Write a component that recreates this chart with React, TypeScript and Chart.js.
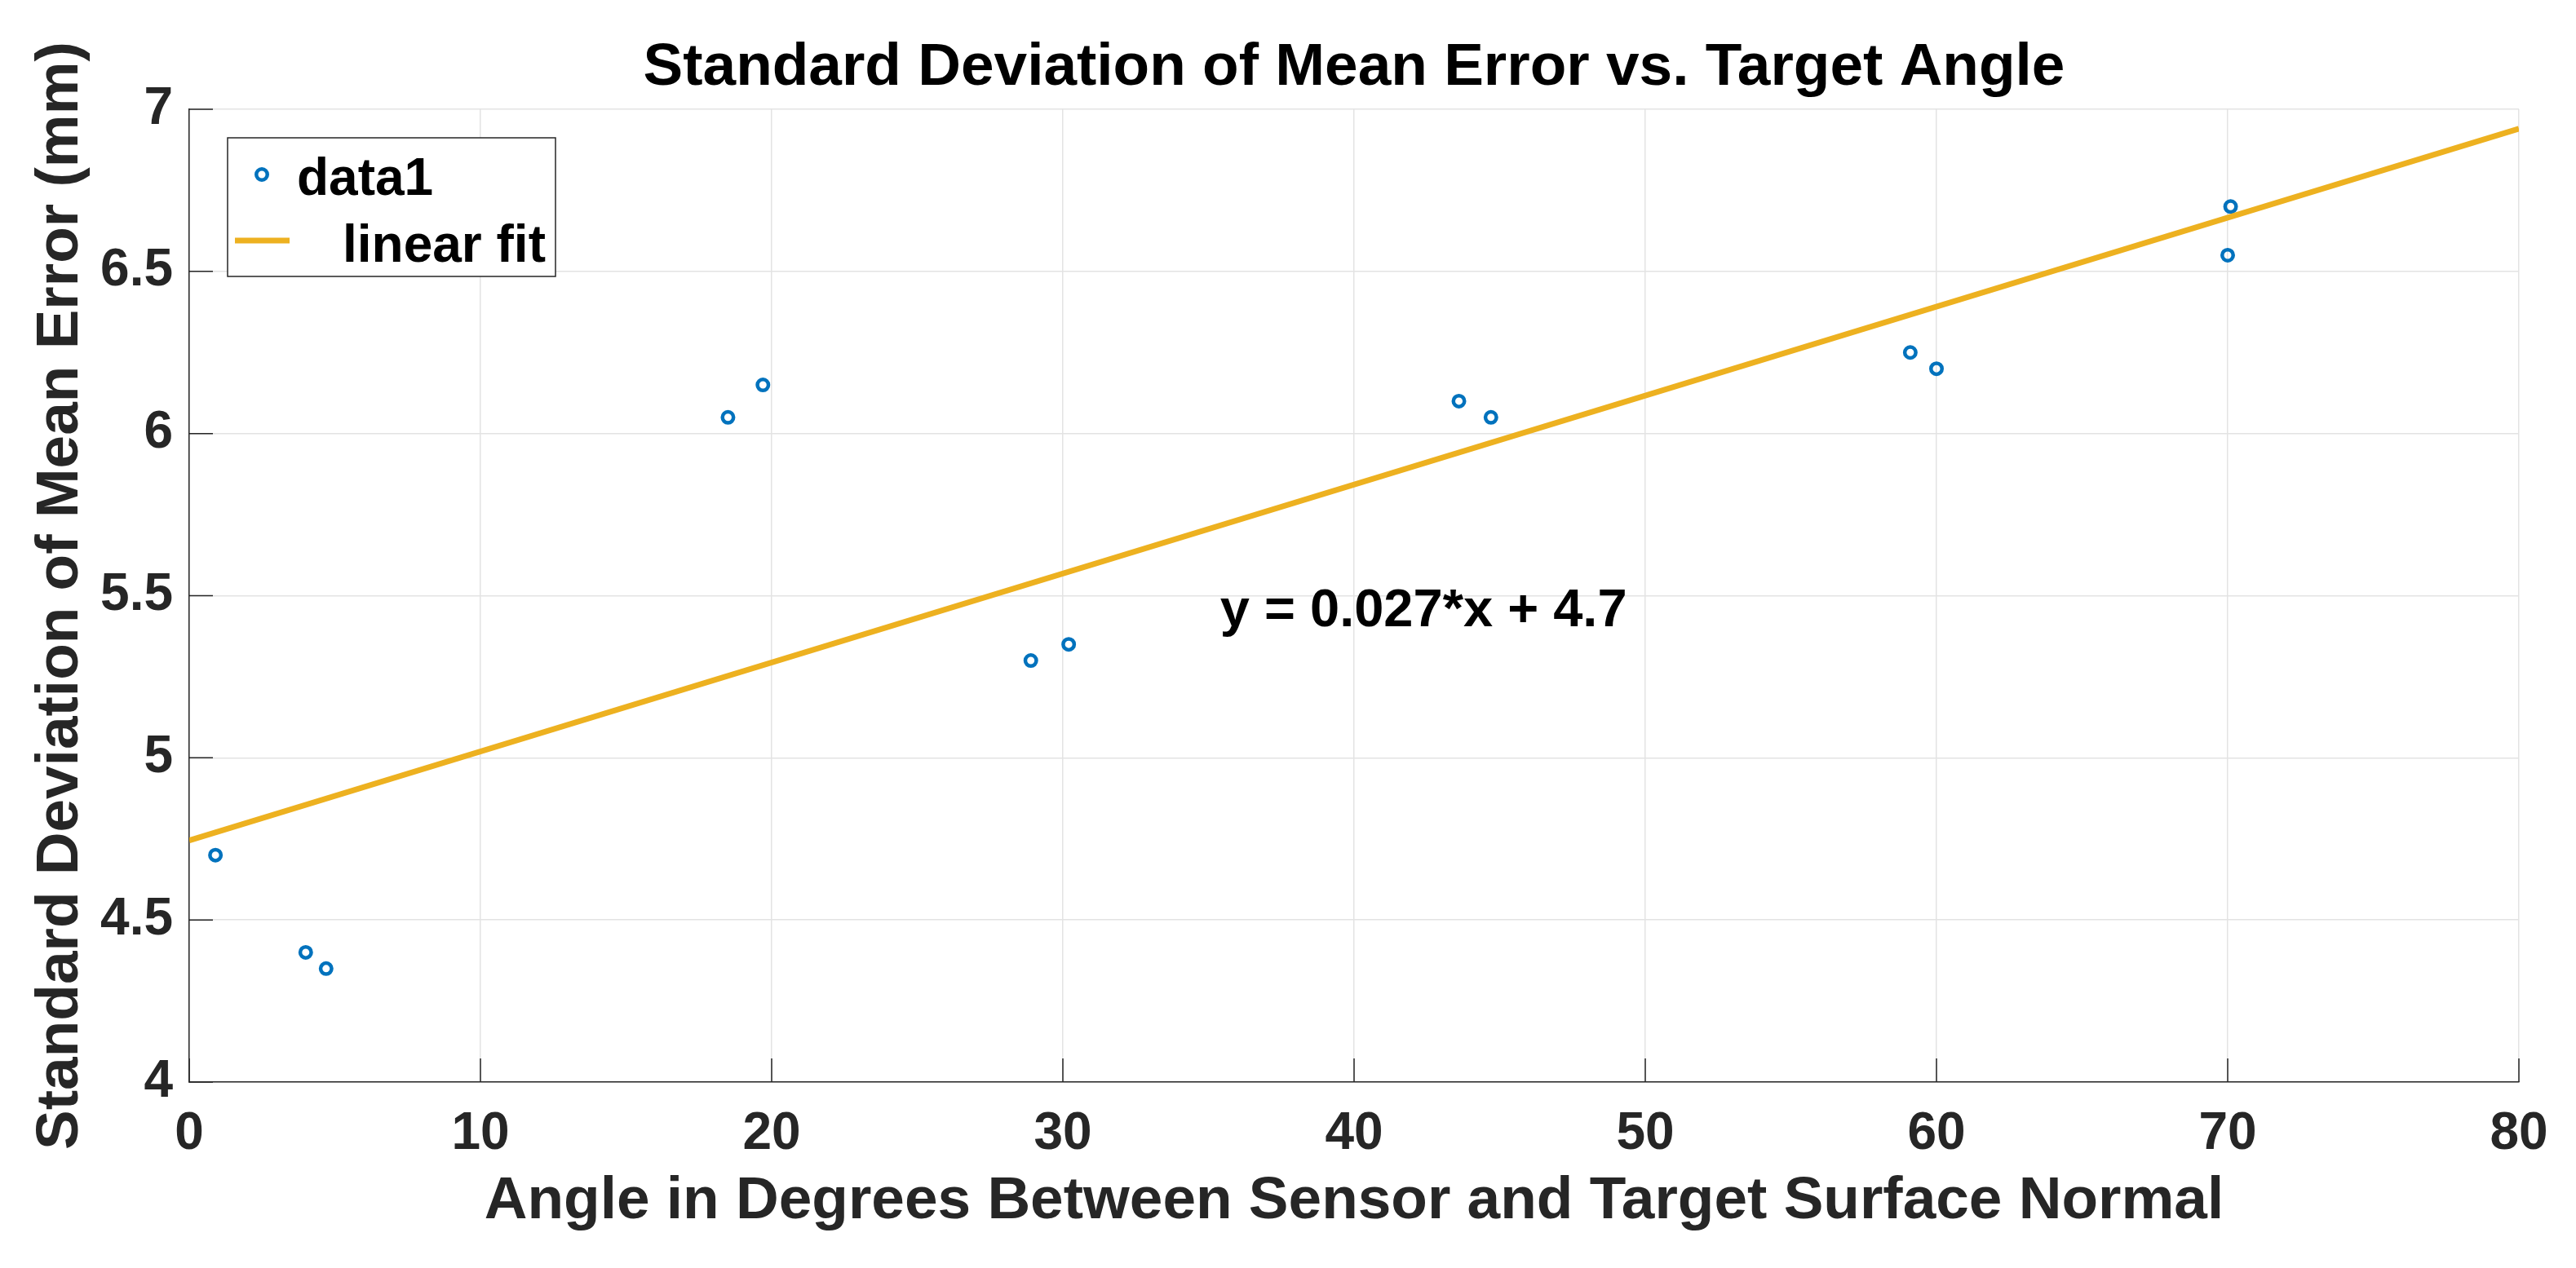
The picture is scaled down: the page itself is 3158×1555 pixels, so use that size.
import React, { useEffect, useRef } from "react";
import { Chart, registerables } from "chart.js";

Chart.register(...registerables);

// ---- data ----
const ANGLES = [0.9, 4.0, 4.7, 18.5, 19.7, 28.9, 30.2, 43.6, 44.7, 59.1, 60.0, 70.0, 70.1];
const STD_ERRORS = [4.70, 4.40, 4.35, 6.05, 6.15, 5.30, 5.35, 6.10, 6.05, 6.25, 6.20, 6.55, 6.70];
const FIT_X = [0, 80];
const FIT_Y = [4.745, 6.94];
const X_TICKS = [0, 10, 20, 30, 40, 50, 60, 70, 80];
const Y_TICKS = [4, 4.5, 5, 5.5, 6, 6.5, 7];
const TITLE = "Standard Deviation of Mean Error vs. Target Angle";
const X_LABEL = "Angle in Degrees Between Sensor and Target Surface Normal";
const Y_LABEL = "Standard Deviation of Mean Error (mm)";
const LEGEND_LABELS = ["data1", "linear fit"];
const EQUATION = "y = 0.027*x + 4.7";
const EQUATION_AT = [35.4, 5.405];

// ---- styles ----
const FONT = '"Liberation Sans", Arial, Helvetica, sans-serif';
const BLUE = "#0072BD";
const GOLD = "#EDB120";
const AXIS = "#262626";
const GRID = "#e3e3e3";
const TICK_LEN = 29;

const overlayPlugin = {
  id: "overlay",
  afterDraw(chart: any) {
    const { ctx, chartArea: a } = chart;
    const xs = chart.scales.x;
    const ys = chart.scales.y;
    ctx.save();
    // inward tick marks (MATLAB style)
    ctx.strokeStyle = AXIS;
    ctx.lineWidth = 1.5;
    ctx.beginPath();
    xs.ticks.forEach((t: any) => {
      const px = xs.getPixelForValue(t.value);
      ctx.moveTo(px, a.bottom);
      ctx.lineTo(px, a.bottom - TICK_LEN);
    });
    ys.ticks.forEach((t: any) => {
      const py = ys.getPixelForValue(t.value);
      ctx.moveTo(a.left, py);
      ctx.lineTo(a.left + TICK_LEN, py);
    });
    ctx.stroke();

    // equation annotation
    ctx.fillStyle = "#000";
    ctx.font = `bold 65px ${FONT}`;
    ctx.textAlign = "left";
    ctx.textBaseline = "alphabetic";
    ctx.fillText(EQUATION, xs.getPixelForValue(EQUATION_AT[0]), ys.getPixelForValue(EQUATION_AT[1]));

    // legend box
    const lx = a.left + 47;
    const ly = a.top + 35;
    const lw = 402;
    const lh = 170;
    ctx.fillStyle = "#fff";
    ctx.fillRect(lx, ly, lw, lh);
    ctx.strokeStyle = AXIS;
    ctx.lineWidth = 1.5;
    ctx.strokeRect(lx, ly, lw, lh);

    // marker entry
    ctx.beginPath();
    ctx.strokeStyle = BLUE;
    ctx.lineWidth = 4.5;
    ctx.arc(lx + 42, ly + 45, 6.75, 0, Math.PI * 2);
    ctx.stroke();
    ctx.fillStyle = "#000";
    ctx.font = `bold 64px ${FONT}`;
    ctx.fillText(LEGEND_LABELS[0], lx + 85, ly + 70);

    // line entry
    ctx.beginPath();
    ctx.strokeStyle = GOLD;
    ctx.lineWidth = 7;
    ctx.moveTo(lx + 9, ly + 126);
    ctx.lineTo(lx + 76, ly + 126);
    ctx.stroke();
    ctx.fillStyle = "#000";
    ctx.fillText(LEGEND_LABELS[1], lx + 141, ly + 152);
    ctx.restore();
  },
};

export default function App() {
  const canvasRef = useRef<HTMLCanvasElement | null>(null);

  useEffect(() => {
    const canvas = canvasRef.current;
    if (!canvas) return;
    Chart.defaults.font.family = FONT;

    const scatterData = ANGLES.map((x, i) => ({ x, y: STD_ERRORS[i] }));
    const fitData = FIT_X.map((x, i) => ({ x, y: FIT_Y[i] }));

    const chart = new Chart(canvas, {
      type: "scatter",
      data: {
        datasets: [
          {
            type: "line",
            label: LEGEND_LABELS[1],
            data: fitData,
            borderColor: GOLD,
            borderWidth: 7,
            pointRadius: 0,
            showLine: true,
            fill: false,
            order: 1,
          } as any,
          {
            type: "scatter",
            label: LEGEND_LABELS[0],
            data: scatterData,
            borderColor: BLUE,
            backgroundColor: "rgba(0,0,0,0)",
            borderWidth: 4.5,
            pointRadius: 6.75,
            pointHoverRadius: 6.75,
            order: 2,
          },
        ],
      },
      options: {
        animation: false,
        responsive: false,
        devicePixelRatio: 1,
        layout: { padding: { left: 0, right: 70, top: 0, bottom: 0 } },
        plugins: {
          legend: { display: false },
          tooltip: { enabled: false },
          title: {
            display: true,
            fullSize: false,
            text: TITLE,
            color: "#000",
            font: { family: FONT, size: 73, weight: "bold" },
            padding: { top: 40, bottom: 6.4 },
          },
        },
        scales: {
          x: {
            type: "linear",
            min: 0,
            max: 80,
            afterBuildTicks: (s: any) => {
              s.ticks = X_TICKS.map((v) => ({ value: v }));
            },
            afterFit: (s: any) => {
              s.height = 228;
            },
            ticks: {
              color: AXIS,
              font: { family: FONT, size: 64, weight: "bold" },
              padding: 26,
              maxRotation: 0,
              autoSkip: false,
              callback: (v: any) => String(v),
            },
            grid: { color: GRID, lineWidth: 1.5, drawTicks: false },
            border: { color: AXIS, width: 1.5 },
            title: {
              display: true,
              text: X_LABEL,
              color: AXIS,
              font: { family: FONT, size: 73, weight: "bold" },
              padding: { top: 0, bottom: 37.4 },
            },
          },
          y: {
            type: "linear",
            min: 4,
            max: 7,
            afterBuildTicks: (s: any) => {
              s.ticks = Y_TICKS.map((v) => ({ value: v }));
            },
            afterFit: (s: any) => {
              s.width = 232;
            },
            ticks: {
              color: AXIS,
              font: { family: FONT, size: 64, weight: "bold" },
              padding: 20,
              autoSkip: false,
              callback: (v: any) => String(v),
            },
            grid: { color: GRID, lineWidth: 1.5, drawTicks: false },
            border: { color: AXIS, width: 1.5 },
            title: {
              display: true,
              text: Y_LABEL,
              color: AXIS,
              font: { family: FONT, size: 73, weight: "bold" },
              padding: { top: 30.6, bottom: 0 },
            },
          },
        },
      },
      plugins: [overlayPlugin],
    });

    return () => {
      chart.destroy();
    };
  }, []);

  return (
    <div style={{ position: "fixed", left: 0, top: 0, width: 3158, height: 1555, background: "#fff" }}>
      <canvas ref={canvasRef} width={3158} height={1555} style={{ width: 3158, height: 1555, display: "block" }} />
    </div>
  );
}
